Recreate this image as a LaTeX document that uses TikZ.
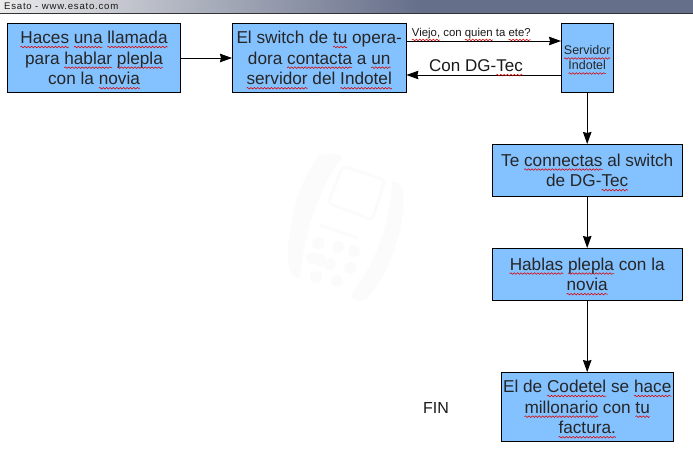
\documentclass[tikz,border=0pt]{standalone}
\usepackage{fontspec}
\setmainfont{Liberation Sans}
\usetikzlibrary{arrows.meta,decorations.pathmorphing}
\definecolor{boxblue}{HTML}{84C1FF}
\definecolor{wm}{HTML}{FBFBFB}
\definecolor{slate}{RGB}{102,111,138}
\newsavebox\sqbox
\newcommand\sq[1]{\sbox\sqbox{#1}\rlap{\tikz[overlay]\draw[-,red!85!black,line width=.55pt,decorate,decoration={snake,amplitude=.8pt,segment length=3.4pt}] (0pt,-3.5pt) -- (\wd\sqbox,-3.5pt);}\usebox\sqbox}
\tikzset{
 x=1pt,y=-1pt,
 flow/.style={draw=black,line width=.9pt,fill=boxblue,align=center,inner sep=0pt,font=\fontsize{17.2}{20.6}\selectfont,text=black!85},
 conn/.style={draw=black,line width=.9pt,-{Stealth[length=12pt,width=8.5pt,inset=1pt]}},
 lab/.style={inner sep=0pt,text=black!90},
}
\begin{document}
\begin{tikzpicture}
\useasboundingbox (0,0) rectangle (693,460);
\fill[white] (0,0) rectangle (693,460);
% watermark
\begin{scope}[fill=wm,draw=none]
\fill (320,155) .. controls (335,152) and (345,155) .. (340,160) .. controls (322,185) and (305,225) .. (300,277) .. controls (292,280) and (288,270) .. (288,250) .. controls (290,210) and (305,170) .. (320,155);
\fill (392,182) .. controls (402,180) and (405,190) .. (403,210) .. controls (400,245) and (382,285) .. (365,300) .. controls (355,302) and (350,298) .. (352,292) .. controls (375,265) and (390,225) .. (392,182);
\draw[wm,line width=3pt,rounded corners=4pt] (343,166) -- (385,180) -- (372,220) -- (328,203) -- cycle;
\foreach \p in {(318,243),(338,247),(354,251),(312,258),(330,264),(350,268),(316,277),(337,281),(320,260)}
  \fill \p circle (6pt);
\draw[wm,line width=3pt] (320,225) -- (358,238);
\end{scope}
% title bar
\shade[left color=black!8,right color=slate] (0,0) rectangle (420,13);
\fill[slate] (420,0) rectangle (693,13);
\draw[black!80,line width=.8pt] (0,13.3) -- (693,13.3);
\node[lab,anchor=west,font=\fontsize{9.6}{10}\selectfont\addfontfeature{LetterSpace=8}] (title) at (4,6.5) {Esato - www.esato.com};
% boxes
\node[flow,minimum width=173pt,minimum height=69pt] (a) at (94,58) {\sq{Haces} \sq{una} \sq{llamada}\\para \sq{hablar} \sq{plepla}\\con la \sq{novia}};
\node[flow,minimum width=173.5pt,minimum height=69pt] (b) at (319.2,58) {El switch de \sq{tu} opera-\\dora \sq{contacta} a \sq{un}\\\sq{servidor} del \sq{Indotel}};
\node[flow,minimum width=51.5pt,minimum height=69pt,font=\fontsize{12.5}{15}\selectfont] (c) at (587.2,58) {\sq{Servidor}\\\sq{Indotel}};
\node[flow,minimum width=189.5pt,minimum height=51.5pt] (d) at (587.2,170.2) {Te \sq{connectas} al switch\\de DG-\sq{Tec}};
\node[flow,minimum width=189.5pt,minimum height=51.5pt] (e) at (587.2,274.2) {\sq{Hablas} \sq{plepla} con la\\\sq{novia}};
\node[flow,minimum width=172.5pt,minimum height=69pt] (f) at (587.2,407) {El de \sq{Codetel} se \sq{hace}\\\sq{millonario} con \sq{tu}\\\sq{factura.}};
\node[lab,font=\fontsize{16}{20}\selectfont] (fin) at (436,408) {FIN};
% connectors
\draw[conn] (a.east) -- (b.west);
\draw[conn] (b.east|-0,41) -- node[lab,above=2pt,font=\fontsize{11.4}{13}\selectfont,pos=.42] (vl) {\sq{Viejo,} con \sq{quien} ta \sq{ete?}} (c.west|-0,41);
\draw[conn] (c.west|-0,75) -- node[lab,above=3pt,font=\fontsize{17}{19}\selectfont,pos=.55] (cl) {Con DG-\sq{Tec}} (b.east|-0,75);
\draw[conn] (c) -- (d);
\draw[conn] (d) -- (e);
\draw[conn] (e) -- (f);
\end{tikzpicture}
\end{document}
